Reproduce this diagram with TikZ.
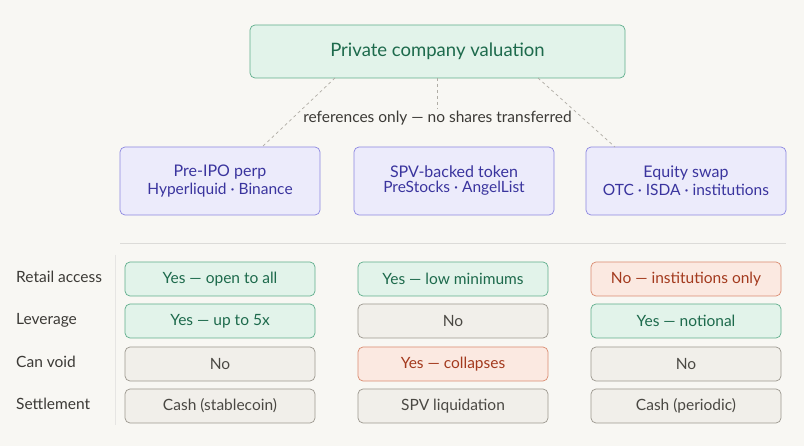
\documentclass[tikz,border=0pt]{standalone}
\usepackage{fontspec}
\setmainfont{Lato}
\definecolor{bg}{HTML}{F8F7F3}
\definecolor{gF}{HTML}{E2F3EA}\definecolor{gD}{HTML}{5FAE8C}\definecolor{gT}{HTML}{1D6A4C}
\definecolor{pF}{HTML}{ECEBFB}\definecolor{pD}{HTML}{8C87E0}\definecolor{pT}{HTML}{3A349E}
\definecolor{nF}{HTML}{F1EFEA}\definecolor{nD}{HTML}{9C988F}\definecolor{nT}{HTML}{4A4843}
\definecolor{rF}{HTML}{FBE9E1}\definecolor{rD}{HTML}{D98B70}\definecolor{rT}{HTML}{A33A1E}
\definecolor{lbl}{HTML}{3C3A36}
\begin{document}
\begin{tikzpicture}[x=1pt,y=-1pt,
 box/.style={draw,rounded corners=5pt,line width=0.7pt,align=center,inner sep=0pt},
 gcell/.style={box,fill=gF,draw=gD,text=gT,minimum width=190pt,minimum height=34pt,font=\fontsize{15.5}{18}\selectfont},
 ncell/.style={gcell,fill=nF,draw=nD,text=nT},
 rcell/.style={gcell,fill=rF,draw=rD,text=rT},
 prod/.style={box,fill=pF,draw=pD,text=pT,minimum width=200pt,minimum height=68pt},
 rowl/.style={anchor=west,text=lbl,font=\fontsize{15.5}{18}\selectfont,inner sep=0pt},
 dl/.style={dashed,draw=nD!80,line width=0.7pt}]
\fill[bg] (0,0) rectangle (804,446);
\useasboundingbox (0,0) rectangle (804,446);
\node[box,fill=gF,draw=gD,text=gT,minimum width=375pt,minimum height=53pt,font=\fontsize{18.5}{22}\selectfont] (top) at (437.5,51.5) {Private company valuation};
\node[prod] (p1) at (220,181) {{\fontsize{16}{19}\selectfont Pre-IPO perp}\\[3pt]{\fontsize{15.5}{18}\selectfont Hyperliquid · Binance}};
\node[prod] (p2) at (454,181) {{\fontsize{16}{19}\selectfont SPV-backed token}\\[3pt]{\fontsize{15.5}{18}\selectfont PreStocks · AngelList}};
\node[prod] (p3) at (686,181) {{\fontsize{16}{19}\selectfont Equity swap}\\[3pt]{\fontsize{15.5}{18}\selectfont OTC · ISDA · institutions}};
\node[text=lbl,font=\fontsize{15.5}{18}\selectfont,fill=bg,inner sep=2pt] (ref) at (437.5,118) {references only — no shares transferred};
\coordinate (a1) at (335,78);\coordinate (a2) at (437.5,78);\coordinate (a3) at (538,78);
\coordinate (b1) at (262,147);\coordinate (b3) at (615,147);
\draw[dl] (a1) -- (b1);
\draw[dl] (a3) -- (b3);
\draw[dl] (a2) -- (ref.north);
\draw[draw=nD!35,line width=0.8pt] (120,243) -- (786,243);
\draw[draw=nD!25,line width=0.6pt] (115,255) -- (115,425);
\node[rowl] (l1) at (16,277) {Retail access};
\node[rowl] (l2) at (16,320) {Leverage};
\node[rowl] (l3) at (16,362) {Can void};
\node[rowl] (l4) at (16,404) {Settlement};
\node[gcell] (c11) at (220,279) {Yes — open to all};
\node[gcell] (c12) at (453,279) {Yes — low minimums};
\node[rcell] (c13) at (686,279) {No — institutions only};
\node[gcell] (c21) at (220,321) {Yes — up to 5x};
\node[ncell] (c22) at (453,321) {No};
\node[gcell] (c23) at (686,321) {Yes — notional};
\node[ncell] (c31) at (220,364) {No};
\node[rcell] (c32) at (453,364) {Yes — collapses};
\node[ncell] (c33) at (686,364) {No};
\node[ncell] (c41) at (220,406) {Cash (stablecoin)};
\node[ncell] (c42) at (453,406) {SPV liquidation};
\node[ncell] (c43) at (686,406) {Cash (periodic)};
\end{tikzpicture}
\end{document}
